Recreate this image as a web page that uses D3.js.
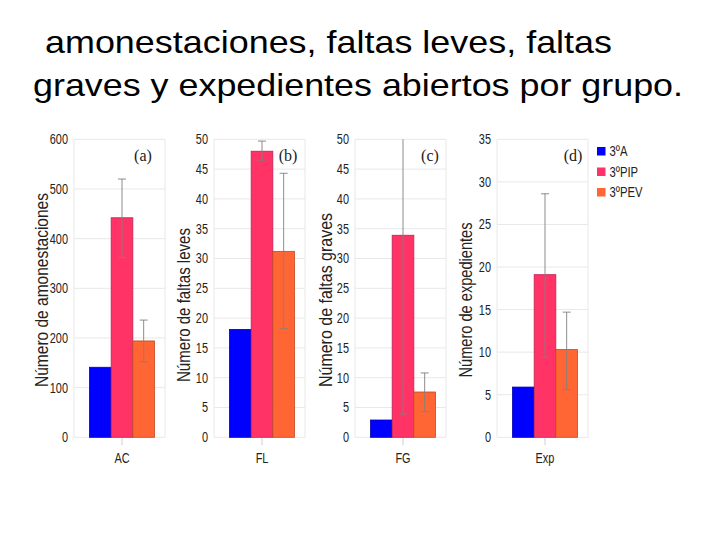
<!DOCTYPE html>
<html><head><meta charset="utf-8">
<script src="https://cdn.jsdelivr.net/npm/d3@7"></script>
<style>body{margin:0;background:#fff}svg{display:block}</style>
</head><body>
<script>
const titleLines = ["amonestaciones, faltas leves, faltas", "graves y expedientes abiertos por grupo."];
const groups = ["3ºA", "3ºPIP", "3ºPEV"];
const colors = ["#0000ff", "#ff3366", "#ff6633"];
const strokes = ["#0000b0", "#c02050", "#c04a22"];
const panelCats = ["AC", "FL", "FG", "Exp"];
const panelTags = ["(a)", "(b)", "(c)", "(d)"];
const panelTitles = ["Número de amonestaciones", "Número de faltas leves", "Número de faltas graves", "Número de expedientes"];
const panelMax = [600, 50, 50, 35];
const panelStep = [100, 5, 5, 5];
const valuesA = [141, 442, 194];
const valuesB = [18.1, 48, 31.2];
const valuesC = [2.9, 33.9, 7.6];
const valuesD = [5.9, 19.1, 10.3];
const errLowA = [null, 362, 152], errHighA = [null, 520, 236];
const errLowB = [null, 46.5, 18.2], errHighB = [null, 49.7, 44.3];
const errLowC = [null, 3.9, 4.3], errHighC = [null, 56, 10.8];
const errLowD = [null, 9.4, 5.6], errHighD = [null, 28.6, 14.7];
const values = [valuesA, valuesB, valuesC, valuesD];
const errLow = [errLowA, errLowB, errLowC, errLowD];
const errHigh = [errHighA, errHighB, errHighC, errHighD];

(function () {
const W = 720, H = 540;
const svg = d3.select("body").append("svg").attr("width", W).attr("height", H);
const sans = "'Liberation Sans',Arial,sans-serif";
const SX = 0.78; // condensed look

// layout (not data)
const lefts = [74, 214, 355, 497];
const tagOffsets = [69, 74, 75, 76];
const titleCenters = [290, 305, 300, 300];
const titleLengths = [194, 154, 174, 155];
const titleOffsets = [26, 24, 23, 25];
const pw = 91, plotTop = 139.3, plotBottom = 437.3;

const titleX = [45, 33], titleY = [53, 96], titleLen = [567, 650];
svg.selectAll("text.title").data(titleLines).enter().append("text")
  .attr("x", (d, i) => titleX[i]).attr("y", (d, i) => titleY[i])
  .attr("font-family", sans).attr("font-size", 32)
  .attr("textLength", (d, i) => titleLen[i]).attr("lengthAdjust", "spacingAndGlyphs")
  .attr("fill", "#000").text(d => d);

function condense(sel) {
  sel.each(function () {
    const t = d3.select(this);
    const x = +t.attr("x") || 0;
    t.attr("x", x / SX).attr("transform", `scale(${SX},1)`);
  });
}

panelCats.forEach((cat, p) => {
  const L = lefts[p];
  const g = svg.append("g");
  const y = d3.scaleLinear().domain([0, panelMax[p]]).range([plotBottom, plotTop]);
  const x0 = d3.scaleBand().domain([cat]).range([L + 15.5, L + 80.5]).padding(0);
  const x1 = d3.scaleBand().domain(groups).range([0, x0.bandwidth()]).padding(0);
  const ticks = d3.range(0, panelMax[p] + 0.001, panelStep[p]);
  const clipId = "clip" + p;
  svg.append("clipPath").attr("id", clipId).append("rect")
    .attr("x", L).attr("y", plotTop).attr("width", pw).attr("height", plotBottom - plotTop);

  g.selectAll("line.h").data(ticks).enter().append("line")
    .attr("x1", L).attr("x2", L + pw).attr("y1", d => y(d)).attr("y2", d => y(d))
    .attr("stroke", "#e8e8e8").attr("stroke-width", 1);
  g.selectAll("line.v").data([L, L + pw]).enter().append("line")
    .attr("x1", d => d).attr("x2", d => d).attr("y1", plotTop).attr("y2", plotBottom)
    .attr("stroke", "#e8e8e8").attr("stroke-width", 1);

  const yAxis = d3.axisLeft(y).tickValues(ticks).tickSize(0).tickPadding(6);
  const ya = g.append("g").attr("transform", `translate(${L},0)`).call(yAxis);
  ya.select(".domain").remove();
  ya.selectAll("text").attr("font-family", sans).attr("font-size", 14).attr("fill", "#222").call(condense);

  const xAxis = d3.axisBottom(x0).tickSize(8).tickPadding(8);
  const xa = g.append("g").attr("transform", `translate(0,${plotBottom})`).call(xAxis);
  xa.select(".domain").remove();
  xa.selectAll("line").attr("stroke", "#d0d0d0");
  xa.selectAll("text").attr("font-family", sans).attr("font-size", 14).attr("fill", "#222").call(condense);

  const data = groups.map((grp, i) => ({grp, i, v: values[p][i], lo: errLow[p][i], hi: errHigh[p][i]}));
  g.selectAll("rect.bar").data(data).enter().append("rect")
    .attr("x", d => x0(cat) + x1(d.grp)).attr("width", x1.bandwidth())
    .attr("y", d => y(d.v)).attr("height", d => plotBottom - y(d.v))
    .attr("fill", d => colors[d.i]).attr("stroke", d => strokes[d.i]).attr("stroke-width", 0.8);

  const eg = g.append("g").attr("clip-path", `url(#${clipId})`);
  const ed = data.filter(d => d.lo != null);
  const cx = d => x0(cat) + x1(d.grp) + x1.bandwidth() / 2;
  eg.selectAll("line.e").data(ed).enter().append("line")
    .attr("x1", cx).attr("x2", cx).attr("y1", d => y(d.lo)).attr("y2", d => y(d.hi))
    .attr("stroke", "#808080").attr("stroke-width", 0.9);
  ["lo", "hi"].forEach(k => {
    eg.selectAll("line.c" + k).data(ed).enter().append("line")
      .attr("x1", d => cx(d) - 4).attr("x2", d => cx(d) + 4)
      .attr("y1", d => y(d[k])).attr("y2", d => y(d[k]))
      .attr("stroke", "#808080").attr("stroke-width", 0.9);
  });

  g.append("text").attr("x", L + tagOffsets[p]).attr("y", 161).attr("text-anchor", "middle")
    .attr("font-family", "'Liberation Serif','DejaVu Serif',serif").attr("font-size", 16)
    .attr("fill", "#222").text(panelTags[p]);

  g.append("text").attr("transform", `translate(${L - titleOffsets[p]},${titleCenters[p]}) rotate(-90)`)
    .attr("text-anchor", "middle").attr("font-family", sans).attr("font-size", 18)
    .attr("textLength", titleLengths[p]).attr("lengthAdjust", "spacingAndGlyphs")
    .attr("fill", "#222").text(panelTitles[p]);
});

const lg = svg.append("g");
groups.forEach((grp, i) => {
  const yy = 147 + i * 20.5;
  lg.append("rect").attr("x", 597).attr("y", yy).attr("width", 8.5).attr("height", 8.5)
    .attr("fill", colors[i]);
  lg.append("text").attr("x", 609.5).attr("y", yy + 9.5).attr("font-family", sans)
    .attr("font-size", 14.5).attr("fill", "#222").text(grp).call(condense);
});
})();
</script>
</body></html>
